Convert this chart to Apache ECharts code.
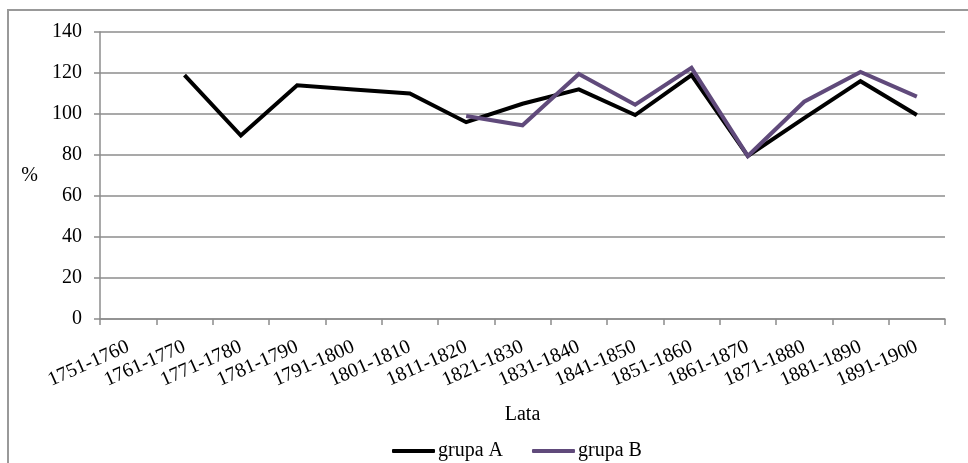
<!DOCTYPE html>
<html>
<head>
<meta charset="utf-8">
<script src="https://cdn.jsdelivr.net/npm/echarts@6/dist/echarts.min.js"></script>
<style>
html,body{margin:0;padding:0;background:#fff;}
#c{width:968px;height:463px;}
</style>
</head>
<body>
<div id="c"></div>
<script>
var categories = ['1751-1760','1761-1770','1771-1780','1781-1790','1791-1800','1801-1810','1811-1820','1821-1830','1831-1840','1841-1850','1851-1860','1861-1870','1871-1880','1881-1890','1891-1900'];
var grupaA = [null, 119, 89.5, 114, 112, 110, 96, 105, 112, 99.5, 119, 79.5, 98, 116, 99.5];
var grupaB = [null, null, null, null, null, null, 99, 94.5, 119.5, 104.5, 122.5, 79.5, 106, 120.5, 108.5];
var yTicks = [0, 20, 40, 60, 80, 100, 120, 140];

var font = 'Liberation Serif, Times New Roman, serif';
var chart = echarts.init(document.getElementById('c'), null, {renderer: 'canvas'});
chart.setOption({
  animation: false,
  backgroundColor: '#fff',
  textStyle: {fontFamily: font, color: '#000'},
  graphic: [{
    type: 'rect', z: -10,
    shape: {x: 8, y: 10, width: 985, height: 480},
    style: {fill: 'none', stroke: '#999999', lineWidth: 2}
  }],
  grid: {left: 100, right: 23, top: 32, bottom: 144, containLabel: false},
  legend: {
    left: 387, top: 436, itemGap: 29, itemWidth: 43, itemHeight: 4,
    icon: 'roundRect',
    textStyle: {fontFamily: font, fontSize: 20, color: '#000', padding: [0,0,0,-2]},
    data: ['grupa A', 'grupa B']
  },
  xAxis: {
    type: 'category', data: categories, boundaryGap: true,
    name: 'Lata', nameLocation: 'middle', nameGap: 86,
    nameTextStyle: {fontFamily: font, fontSize: 20, color: '#000'},
    axisLine: {lineStyle: {color: '#8c8c8c', width: 1.5}},
    axisTick: {show: true, alignWithLabel: false, length: 6, lineStyle: {color: '#8c8c8c', width: 1.5}},
    axisLabel: {rotate: 24, margin: 27, interval: 0, fontFamily: font, fontSize: 20, color: '#000'},
    splitLine: {show: false}
  },
  yAxis: {
    type: 'value', min: yTicks[0], max: yTicks[yTicks.length - 1], interval: 20,
    name: '%', nameLocation: 'middle', nameGap: 62, nameRotate: 0,
    nameTextStyle: {fontFamily: font, fontSize: 20, color: '#000', padding: [4,0,0,0]},
    axisLine: {show: true, lineStyle: {color: '#8c8c8c', width: 1.5}},
    axisTick: {show: true, length: 6, lineStyle: {color: '#8c8c8c', width: 1.5}},
    axisLabel: {margin: 18, fontFamily: font, fontSize: 20, color: '#000'},
    splitLine: {show: true, lineStyle: {color: '#8c8c8c', width: 1.5}}
  },
  series: [
    {name: 'grupa A', type: 'line', data: grupaA, symbol: 'none', connectNulls: true,
     lineStyle: {color: '#000000', width: 4, join: 'miter'}, itemStyle: {color: '#000000'}, z: 2},
    {name: 'grupa B', type: 'line', data: grupaB, symbol: 'none', connectNulls: true,
     lineStyle: {color: '#604a7b', width: 4, join: 'miter'}, itemStyle: {color: '#604a7b'}, z: 3}
  ]
});
</script>
</body>
</html>
